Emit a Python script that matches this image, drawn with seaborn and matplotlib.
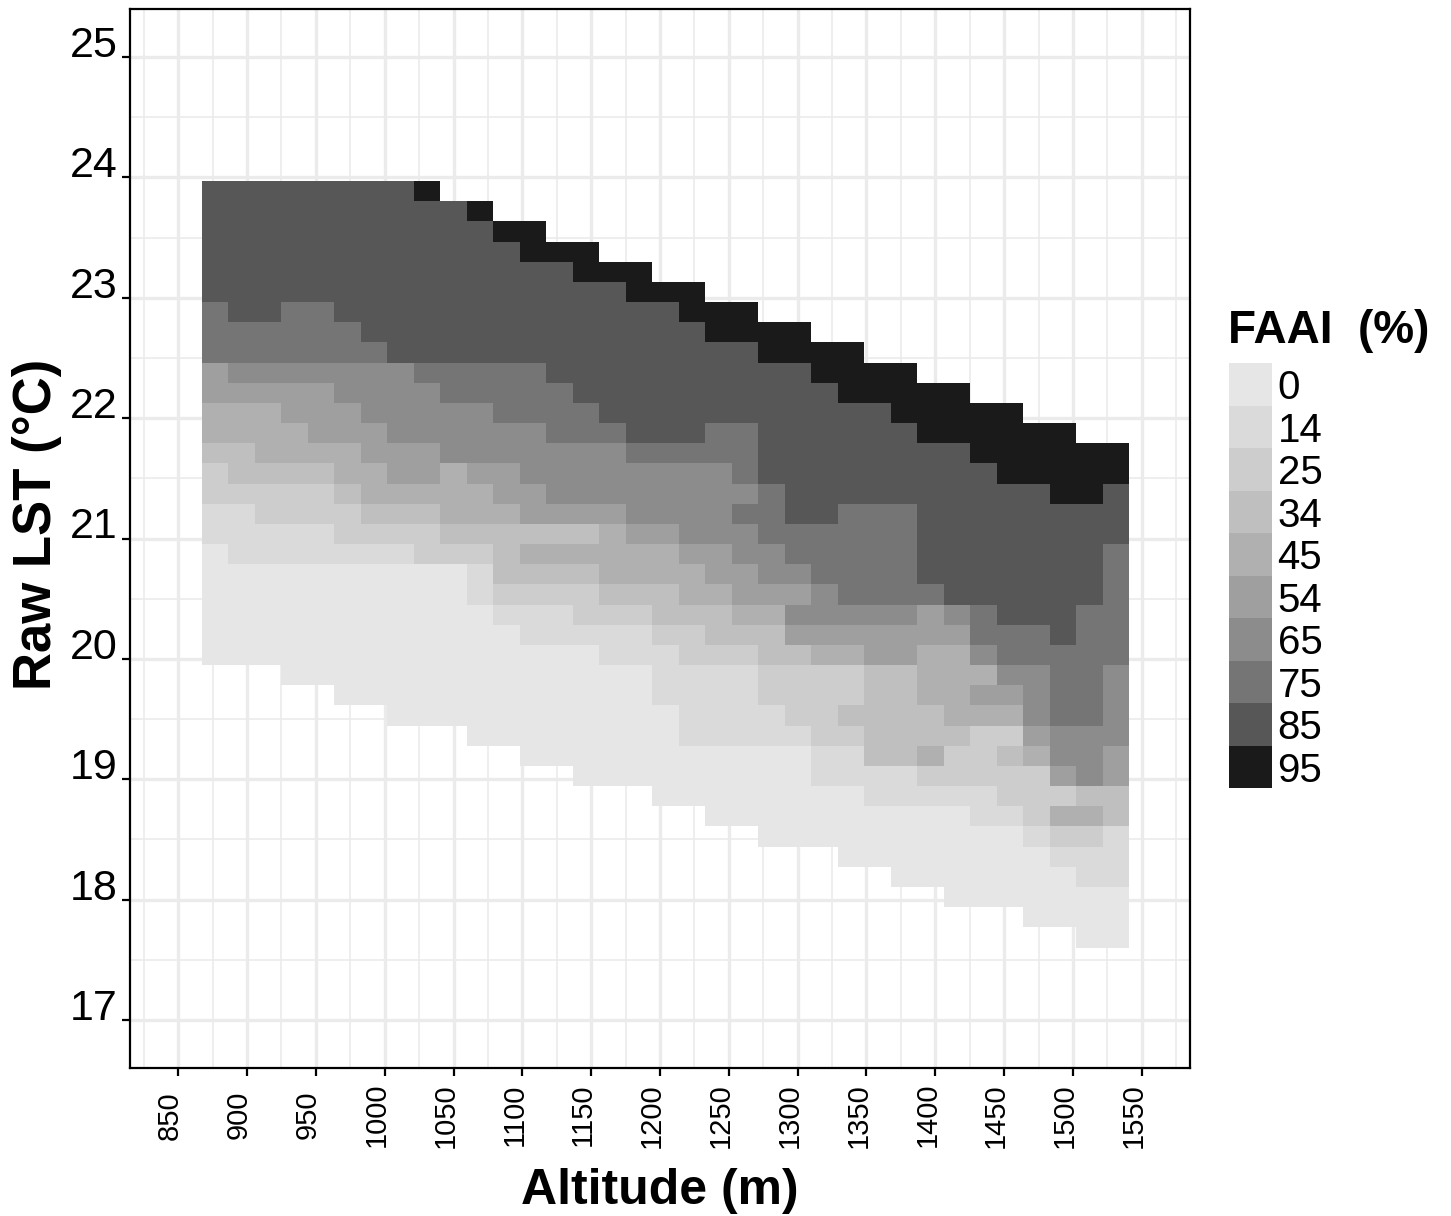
import numpy as np
import pandas as pd
import matplotlib
matplotlib.use("Agg")
import matplotlib.pyplot as plt
from matplotlib import font_manager
from matplotlib.colors import ListedColormap
from matplotlib.ticker import MultipleLocator
import seaborn as sns

# ---------------- data ----------------
faai_labels = ["0", "14", "25", "34", "45", "54", "65", "75", "85", "95"]
grey_levels = ["#E6E6E6", "#DADADA", "#CDCDCD", "#BFBFBF", "#B0B0B0",
               "#9F9F9F", "#8C8C8C", "#757575", "#575757", "#1A1A1A"]

alt_start = 867.0      # left edge of first altitude bin (m)
alt_step = 19.25       # altitude bin width (m)
n_alt = 35
lst_top = 23.97        # upper edge of first LST bin (deg C)
lst_step = 0.1676      # LST bin height (deg C)
n_lst = 38

# first (top) LST row index of every altitude column
top_row = [0, 0, 0, 0, 0, 0, 0, 0, 0, 1, 1, 2, 2, 3, 3, 4, 4, 5, 5, 6, 6,
           7, 7, 8, 8, 9, 9, 10, 10, 11, 11, 12, 12, 13, 13]

# FAAI class (index into faai_labels) runs from the top row downwards, per column
col_runs = [
    [(8, 6), (7, 3), (5, 2), (4, 2), (3, 1), (2, 2), (1, 2), (0, 6)],
    [(8, 7), (7, 2), (6, 1), (5, 1), (4, 2), (3, 2), (2, 1), (1, 3), (0, 5)],
    [(8, 7), (7, 2), (6, 1), (5, 1), (4, 3), (3, 1), (2, 2), (1, 2), (0, 5)],
    [(8, 6), (7, 3), (6, 1), (5, 2), (4, 2), (3, 1), (2, 2), (1, 2), (0, 6)],
    [(8, 6), (7, 3), (6, 1), (5, 3), (4, 1), (3, 1), (2, 2), (1, 2), (0, 6)],
    [(8, 7), (7, 2), (6, 2), (5, 2), (4, 2), (3, 1), (2, 2), (1, 1), (0, 7)],
    [(8, 8), (7, 1), (6, 3), (5, 2), (4, 2), (3, 1), (2, 1), (1, 1), (0, 7)],
    [(8, 9), (6, 4), (5, 2), (4, 1), (3, 1), (2, 1), (1, 1), (0, 8)],
    [(9, 1), (8, 8), (7, 1), (6, 3), (5, 2), (4, 1), (3, 1), (2, 2), (0, 8)],
    [(8, 8), (7, 2), (6, 3), (4, 3), (3, 1), (2, 1), (0, 8)],
    [(9, 1), (8, 7), (7, 2), (6, 3), (5, 1), (4, 2), (3, 1), (2, 1), (1, 2), (0, 7)],
    [(9, 1), (8, 6), (7, 3), (6, 2), (5, 2), (4, 1), (3, 3), (2, 1), (1, 1), (0, 6)],
    [(9, 2), (8, 5), (7, 3), (6, 3), (5, 2), (3, 1), (4, 1), (3, 1), (2, 1), (1, 2), (0, 6)],
    [(9, 1), (8, 6), (7, 3), (6, 3), (5, 1), (3, 1), (4, 1), (3, 1), (2, 1), (1, 2), (0, 6)],
    [(9, 2), (8, 6), (7, 2), (6, 3), (5, 1), (3, 1), (4, 1), (3, 1), (2, 2), (1, 1), (0, 7)],
    [(9, 1), (8, 7), (7, 1), (6, 3), (5, 1), (4, 3), (3, 1), (2, 1), (1, 2), (0, 6)],
    [(9, 2), (8, 7), (7, 1), (6, 3), (5, 1), (4, 2), (3, 1), (2, 1), (1, 2), (0, 6)],
    [(9, 1), (8, 7), (7, 1), (6, 3), (5, 1), (4, 2), (3, 2), (2, 1), (1, 3), (0, 5)],
    [(9, 2), (8, 6), (7, 1), (6, 4), (5, 1), (4, 2), (3, 1), (2, 2), (1, 4), (0, 3)],
    [(9, 2), (8, 4), (7, 2), (6, 4), (5, 2), (4, 1), (3, 2), (2, 1), (1, 4), (0, 4)],
    [(9, 2), (8, 4), (7, 3), (6, 1), (7, 1), (6, 2), (5, 2), (4, 1), (3, 1), (2, 1), (1, 4), (0, 4)],
    [(9, 2), (8, 6), (7, 3), (6, 2), (5, 1), (4, 1), (3, 2), (2, 2), (1, 2), (0, 5)],
    [(9, 2), (8, 8), (7, 2), (6, 1), (5, 1), (6, 1), (5, 1), (3, 1), (2, 3), (1, 1), (0, 5)],
    [(9, 2), (8, 7), (7, 3), (6, 2), (5, 1), (4, 1), (2, 4), (1, 2), (0, 3)],
    [(9, 3), (8, 5), (7, 5), (6, 1), (5, 1), (4, 1), (2, 2), (3, 1), (2, 1), (1, 2), (0, 4)],
    [(9, 2), (8, 5), (7, 5), (6, 1), (5, 2), (3, 5), (1, 2), (0, 3)],
    [(9, 3), (8, 4), (7, 5), (6, 1), (5, 2), (3, 5), (1, 2), (0, 4)],
    [(9, 3), (8, 7), (7, 1), (5, 2), (4, 3), (3, 2), (4, 1), (2, 1), (1, 1), (0, 4)],
    [(9, 3), (8, 8), (6, 1), (5, 1), (4, 4), (3, 1), (2, 2), (1, 1), (0, 5)],
    [(9, 3), (8, 7), (7, 2), (6, 1), (4, 1), (5, 1), (4, 1), (2, 3), (1, 2), (0, 4)],
    [(9, 4), (8, 7), (7, 2), (6, 1), (5, 1), (4, 1), (2, 1), (3, 1), (2, 2), (1, 1), (0, 4)],
    [(9, 3), (8, 7), (7, 2), (6, 3), (5, 1), (4, 1), (2, 3), (1, 1), (0, 4)],
    [(9, 4), (8, 7), (7, 4), (6, 2), (5, 1), (2, 1), (4, 1), (2, 1), (1, 1), (0, 3)],
    [(9, 3), (8, 5), (7, 6), (6, 3), (3, 1), (4, 1), (2, 1), (1, 2), (0, 3)],
    [(9, 2), (8, 3), (7, 6), (6, 4), (5, 2), (3, 2), (1, 3), (0, 3)],
]

# ---------------- build tidy table ----------------
records = []
for c, (t, runs) in enumerate(zip(top_row, col_runs)):
    r = t
    for lvl, n in runs:
        for _ in range(n):
            records.append((alt_start + (c + 0.5) * alt_step,
                            lst_top - (r + 0.5) * lst_step,
                            lvl + 1))
            r += 1
df = pd.DataFrame(records, columns=["altitude", "lst", "faai_class"])

x_edges = alt_start + alt_step * np.arange(n_alt + 1)
y_edges = lst_top - lst_step * np.arange(n_lst + 1)[::-1]

# ---------------- plot ----------------
sns.set_theme(style="white")
plt.rcParams["font.family"] = ["Liberation Sans", "DejaVu Sans"]


def _has_font(name):
    try:
        font_manager.findfont(name, fallback_to_default=False)
        return True
    except Exception:
        return False


narrow_ok = _has_font("Liberation Sans Narrow")
xtick_family = ["Liberation Sans Narrow"] if narrow_ok else ["Liberation Sans"]
xtick_size = 24 if narrow_ok else 21

W, H = 1451, 1216
fig = plt.figure(figsize=(W / 100, H / 100), dpi=100, facecolor="white")
ax = fig.add_axes([130 / W, 1 - 1068 / H, 1060 / W, 1059 / H])
ax.set_facecolor("white")

cmap = ListedColormap(grey_levels)
sns.histplot(data=df, x="altitude", y="lst", weights="faai_class",
             bins=[x_edges, y_edges], cmap=cmap, vmin=0.5, vmax=10.5,
             cbar=False, ax=ax)

ax.set_xlim(815, 1585)
ax.set_ylim(16.6, 25.4)
ax.set_xticks(np.arange(850, 1551, 50))
ax.set_yticks(np.arange(17, 26, 1))
ax.xaxis.set_minor_locator(MultipleLocator(25))
ax.yaxis.set_minor_locator(MultipleLocator(0.5))
ax.set_axisbelow(True)
ax.grid(which="major", color="#EBEBEB", linewidth=2.4)
ax.grid(which="minor", color="#EBEBEB", linewidth=1.2)

for sp in ax.spines.values():
    sp.set_color("black")
    sp.set_linewidth(1.6)

ax.tick_params(which="major", direction="out", length=6, width=1.6,
               color="black", labelcolor="black", bottom=True, left=True)
ax.tick_params(which="minor", length=0)
ax.tick_params(axis="x", which="major", labelsize=xtick_size, labelrotation=90, pad=28)
ax.tick_params(axis="y", which="major", labelsize=31, pad=3)
for lab in ax.get_xticklabels():
    lab.set_family(xtick_family)
    lab.set_rotation_mode("anchor")
    lab.set_ha("center")
    lab.set_va("baseline")
for lab in ax.get_yticklabels():
    lab.set_ha("right")
    lab.set_va("baseline")

ax.set_xlabel("Altitude (m)", fontsize=36, fontweight="bold", color="black")
ax.set_ylabel("Raw LST (°C)", fontsize=38, fontweight="bold", color="black")
ax.xaxis.set_label_coords(0.5, -0.0947)
ax.yaxis.set_label_coords(-0.0645, 0.5137)

# ---------------- legend ----------------
fig.text(1228 / W, 1 - 343 / H, "FAAI  (%)", fontsize=33, fontweight="bold",
         ha="left", va="baseline", color="black")
lax = fig.add_axes([1229 / W, 1 - 788 / H, 43 / W, 425 / H])
sns.heatmap(np.arange(len(faai_labels)).reshape(-1, 1), cmap=cmap,
            vmin=-0.5, vmax=len(faai_labels) - 0.5, cbar=False, ax=lax)
lax.set_xticks([])
lax.set_yticks(np.arange(len(faai_labels)) + 0.5)
lax.set_yticklabels(faai_labels, rotation=0)
lax.yaxis.tick_right()
lax.tick_params(axis="y", length=0, labelsize=29, pad=4, labelcolor="black")
lax.set_xlabel("")
lax.set_ylabel("")
for sp in lax.spines.values():
    sp.set_visible(False)

fig.savefig("out.png", dpi=100, facecolor="white")
